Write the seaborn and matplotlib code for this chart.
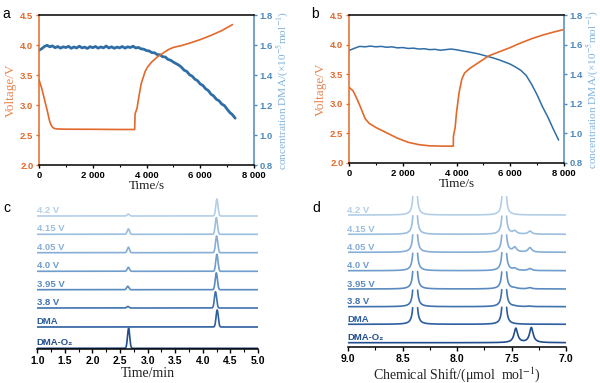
import numpy as np
import pandas as pd
import matplotlib
matplotlib.use("Agg")
import matplotlib.pyplot as plt
import seaborn as sns

# ---------------- Panel a data ----------------
a_volt_time = [0, 100, 200, 300, 400, 480, 560, 700, 1000, 2000, 3000, 3560,
               3575, 3650, 3720, 3800, 3870, 3950, 4050, 4200, 4400, 4600,
               4800, 5000, 5300, 5600, 6000, 6400, 6800, 7200]
a_volt = [3.42, 3.28, 3.10, 2.92, 2.72, 2.64, 2.61, 2.60, 2.597, 2.595, 2.592, 2.592,
          2.85, 2.95, 3.15, 3.35, 3.45, 3.56, 3.64, 3.72, 3.80, 3.86,
          3.92, 3.96, 3.99, 4.03, 4.09, 4.16, 4.24, 4.34]
a_conc_time = list(range(0, 7301, 100))
a_conc = [1.565, 1.575, 1.590, 1.598, 1.588, 1.594, 1.582, 1.590, 1.579, 1.588,
          1.583, 1.591, 1.578, 1.587, 1.580, 1.592, 1.581, 1.586, 1.577, 1.589,
          1.582, 1.590, 1.579, 1.587, 1.581, 1.593, 1.580, 1.588, 1.578, 1.586,
          1.581, 1.590, 1.579, 1.588, 1.583, 1.592, 1.580, 1.584, 1.574, 1.572,
          1.563, 1.560, 1.549, 1.548, 1.536, 1.535, 1.522, 1.520, 1.504, 1.498,
          1.486, 1.476, 1.466, 1.452, 1.432, 1.424, 1.402, 1.392, 1.372, 1.362,
          1.340, 1.330, 1.308, 1.296, 1.272, 1.260, 1.238, 1.228, 1.206, 1.196,
          1.172, 1.150, 1.135, 1.112]

# ---------------- Panel b data ----------------
b_volt_time = [0, 150, 300, 450, 600, 750, 1000, 1400, 1800, 2200, 2600, 3000,
               3500, 3880, 3885, 3950, 4000, 4100, 4200, 4300, 4500, 4800,
               5200, 5600, 6000, 6400, 6800, 7200, 7600, 7950]
b_volt = [3.28, 3.22, 3.08, 2.92, 2.75, 2.67, 2.60, 2.51, 2.42, 2.35, 2.31, 2.29,
          2.285, 2.285, 2.45, 2.60, 2.85, 3.20, 3.42, 3.52, 3.60, 3.69,
          3.81, 3.88, 3.95, 4.03, 4.10, 4.16, 4.21, 4.25]
b_conc_time = list(range(0, 7801, 200))
b_conc = [1.560, 1.575, 1.588, 1.585, 1.590, 1.585, 1.588, 1.582, 1.585, 1.578,
          1.580, 1.574, 1.576, 1.570, 1.572, 1.566, 1.568, 1.562, 1.566, 1.570,
          1.565, 1.558, 1.552, 1.545, 1.538, 1.528, 1.518, 1.508, 1.496, 1.482,
          1.468, 1.448, 1.425, 1.390, 1.330, 1.260, 1.180, 1.110, 1.030, 0.955]

time_ticks = [0, 2000, 4000, 6000, 8000]
time_tick_labels = ["0", "2 000", "4 000", "6 000", "8 000"]
volt_ticks = [2.0, 2.5, 3.0, 3.5, 4.0, 4.5]
conc_ticks = [0.8, 1.0, 1.2, 1.4, 1.6, 1.8]

# ---------------- Panel c data (HPLC) ----------------
trace_labels = ["4.2 V", "4.15 V", "4.05 V", "4.0 V", "3.95 V", "3.8 V", "DMA", "DMA-O₂"]
c_offsets = [133, 114.7, 96.3, 77.7, 59.3, 41, 22, 0.7]
c_small_pos = [2.65, 2.65, 2.65, 2.65, 2.64, 2.64, 2.65, 2.655]
c_small_h = [2, 5.5, 5.5, 4, 3.5, 1.5, 0, 20]
c_main_pos = [4.255, 4.245, 4.25, 4.255, 4.245, 4.23, 4.26, 4.25]
c_main_h = [17, 16.7, 16.7, 17, 16.8, 16.3, 17, 0]
c_sigma = 0.02
c_ticks = [1.0, 1.5, 2.0, 2.5, 3.0, 3.5, 4.0, 4.5, 5.0]

# ---------------- Panel d data (NMR) ----------------
d_offsets = [132, 112.7, 94.7, 76.3, 58, 40.3, 22.7, 4.3]
d_main_pos = [8.384, 7.567]
d_main_h = [190, 190, 190, 190, 190, 190, 190, 0]
d_main_gamma = 0.007
d_small_pos = [7.47, 7.33]
d_small_pos_o2 = [7.46, 7.318]
d_small_h1 = [0, 3, 4.5, 2, 0.8, 0.3, 0, 14.3]
d_small_h2 = [0, 3, 4.5, 2, 1.2, 0.5, 0, 15]
d_small_gamma = 0.02
d_ticks = [9.0, 8.5, 8.0, 7.5, 7.0]

trace_colors = ["#B3CEE6", "#9CBEDF", "#86AED6", "#6F9DCC", "#5A8BC0",
                "#3F72AE", "#2D5E9E", "#234E8D"]

# ---------------- Style ----------------
ORANGE = "#E2692B"
ORANGE_LAB = "#E58652"
BLUE_LINE = "#2F6DA6"
BLUE_AX = "#4F89BA"
BLUE_LAB = "#7FB2D9"

sns.set_theme(style="ticks")
plt.rcParams["font.family"] = ["Liberation Sans", "DejaVu Sans"]
plt.rcParams["mathtext.fontset"] = "stix"
SERIF = ["Liberation Serif", "DejaVu Serif"]
SANS = ["Liberation Sans", "DejaVu Sans"]

fig = plt.figure(figsize=(6.0, 3.83), dpi=100)
W, H = 600.0, 383.0


def box(l, t, r, b):
    return [l / W, 1 - b / H, (r - l) / W, (b - t) / H]


def bold_ticks(ax, axis, labels, size, color):
    if axis == "x":
        ax.set_xticklabels(labels, fontweight="bold", fontsize=size, color=color, family=SANS)
    else:
        ax.set_yticklabels(labels, fontweight="bold", fontsize=size, color=color, family=SANS)


def panel_ab(rect, vt, vv, ct, cv, conc_lw):
    ax = fig.add_axes(rect)
    ax2 = ax.twinx()
    sns.lineplot(x=ct, y=cv, ax=ax2, color=BLUE_LINE, lw=conc_lw, estimator=None, sort=False)
    sns.lineplot(x=vt, y=vv, ax=ax, color=ORANGE, lw=1.2, estimator=None, sort=False)
    ax.set_zorder(ax2.get_zorder() + 1)
    ax.patch.set_visible(False)
    ax.set_xlim(0, 8000)
    ax.set_ylim(2.0, 4.5)
    ax2.set_ylim(0.8, 1.8)
    ax.set_xticks(time_ticks)
    bold_ticks(ax, "x", time_tick_labels, 6.8, "black")
    ax.set_xticks([1000, 3000, 5000, 7000], minor=True)
    ax.set_yticks(volt_ticks)
    bold_ticks(ax, "y", [f"{v:.1f}" for v in volt_ticks], 6.8, ORANGE)
    ax2.set_yticks(conc_ticks)
    bold_ticks(ax2, "y", [f"{v:.1f}" for v in conc_ticks], 6.8, BLUE_AX)
    ax.tick_params(axis="x", which="major", length=2.5, width=1, pad=2, colors="black")
    ax.tick_params(axis="x", which="minor", length=1.5, width=0.8, colors="black")
    ax.tick_params(axis="y", length=2.5, width=1, pad=1.5, colors=ORANGE)
    ax2.tick_params(axis="y", length=2.5, width=1, pad=1.5, colors=BLUE_AX)
    for s in ["left", "top", "bottom", "right"]:
        ax.spines[s].set_linewidth(1.1)
        ax2.spines[s].set_linewidth(1.1)
    ax.spines["left"].set_color(ORANGE)
    ax.spines["right"].set_visible(False)
    ax.spines["top"].set_color("black")
    ax.spines["bottom"].set_color("black")
    ax2.spines["right"].set_color(BLUE_AX)
    ax2.spines["left"].set_visible(False)
    ax2.spines["top"].set_visible(False)
    ax2.spines["bottom"].set_visible(False)
    ax.set_xlabel("Time/s", family=SERIF, fontsize=9.5, color="#222222", labelpad=0)
    ax.set_ylabel("Voltage/V", family=SERIF, fontsize=9.5, color=ORANGE_LAB, labelpad=2)
    ax2.set_ylabel("concentration DMA/(×10$^{-5}$mol$^{-1}$)", family=SERIF, fontsize=8.2,
                   color=BLUE_LAB, labelpad=1)
    return ax


panel_ab(box(39, 15, 254, 165), a_volt_time, a_volt, a_conc_time, a_conc, 2.0)
panel_ab(box(349, 15, 564, 163), b_volt_time, b_volt, b_conc_time, b_conc, 1.1)

palette = dict(zip(trace_labels, trace_colors))

# ---------------- Panel c ----------------
axc = fig.add_axes(box(37.3, 197, 258, 349))
c_x = np.linspace(1.0, 5.0, 2001)
frames = []
for i, lab in enumerate(trace_labels):
    y = (c_offsets[i]
         + c_small_h[i] * np.exp(-0.5 * ((c_x - c_small_pos[i]) / c_sigma) ** 2)
         + c_main_h[i] * np.exp(-0.5 * ((c_x - c_main_pos[i]) / c_sigma) ** 2))
    frames.append(pd.DataFrame({"x": c_x, "y": y, "trace": lab}))
dfc = pd.concat(frames, ignore_index=True)
sns.lineplot(data=dfc, x="x", y="y", hue="trace", palette=palette, estimator=None,
             sort=False, legend=False, lw=1.2, ax=axc)
axc.set_xlim(1.0, 5.0)
axc.set_ylim(0, 152)
for i, lab in enumerate(trace_labels):
    axc.text(0.99, c_offsets[i] + 3.0, lab, color=trace_colors[i], fontsize=6.8,
             fontweight="bold", family=SANS, ha="left", va="baseline")

# ---------------- Panel d ----------------
axd = fig.add_axes(box(348, 196, 566, 347))
d_x = np.linspace(7.0, 9.0, 3001)
frames = []
for i, lab in enumerate(trace_labels):
    g = d_main_gamma
    main = sum(d_main_h[i] * g ** 2 / ((d_x - p) ** 2 + g ** 2) for p in d_main_pos)
    sp = d_small_pos_o2 if i == len(trace_labels) - 1 else d_small_pos
    gs = d_small_gamma
    small = (d_small_h1[i] * gs ** 2 / ((d_x - sp[0]) ** 2 + gs ** 2)
             + d_small_h2[i] * gs ** 2 / ((d_x - sp[1]) ** 2 + gs ** 2))
    y = d_offsets[i] + main + small
    if i > 0:
        clip = d_offsets[i - 1] - d_offsets[i] - 0.3
        over = (main + small) > clip
    else:
        over = np.zeros_like(d_x, dtype=bool)
    seg = np.cumsum(np.r_[0, np.diff(over.astype(int)) != 0])
    df = pd.DataFrame({"x": d_x, "y": y, "trace": lab, "unit": [f"{lab}-{s}" for s in seg]})
    frames.append(df[~over])
dfd = pd.concat(frames, ignore_index=True)
sns.lineplot(data=dfd, x="x", y="y", hue="trace", units="unit", palette=palette,
             estimator=None, sort=False, legend=False, lw=1.2, ax=axd)
axd.set_xlim(9.0, 7.0)
axd.set_ylim(0, 151)
for i, lab in enumerate(trace_labels):
    axd.text(9.01, d_offsets[i] + 2.2, lab, color=trace_colors[i], fontsize=6.8,
             fontweight="bold", family=SANS, ha="left", va="baseline")

for ax, ticks, minor in [(axc, c_ticks, np.arange(1.25, 5.0, 0.5)),
                         (axd, d_ticks, [8.75, 8.25, 7.75, 7.25])]:
    for s in ["left", "top", "right"]:
        ax.spines[s].set_visible(False)
    ax.spines["bottom"].set_linewidth(1.1)
    ax.spines["bottom"].set_color("black")
    ax.set_yticks([])
    ax.set_ylabel("")
    ax.set_xticks(ticks)
    bold_ticks(ax, "x", [f"{t:.1f}" for t in ticks], 7.5, "black")
    ax.set_xticks(minor, minor=True)
    ax.tick_params(axis="x", which="major", length=3, width=1, pad=2, colors="black")
    ax.tick_params(axis="x", which="minor", length=2, width=0.8, colors="black")
    ax.patch.set_visible(False)

axc.set_xlabel("Time/min", family=SERIF, fontsize=10, color="#222222", labelpad=1)
axd.set_xlabel("Chemical Shift/(μmol  mol$^{-1}$)", family=SERIF, fontsize=10,
               color="#222222", labelpad=1)

# Panel letters
for letter, (px, py) in {"a": (2, 18), "b": (311, 18), "c": (3, 212), "d": (312, 212)}.items():
    fig.text(px / W, 1 - py / H, letter, fontsize=10, family=SANS, color="black",
             ha="left", va="baseline")

fig.savefig("out.png", dpi=100)
